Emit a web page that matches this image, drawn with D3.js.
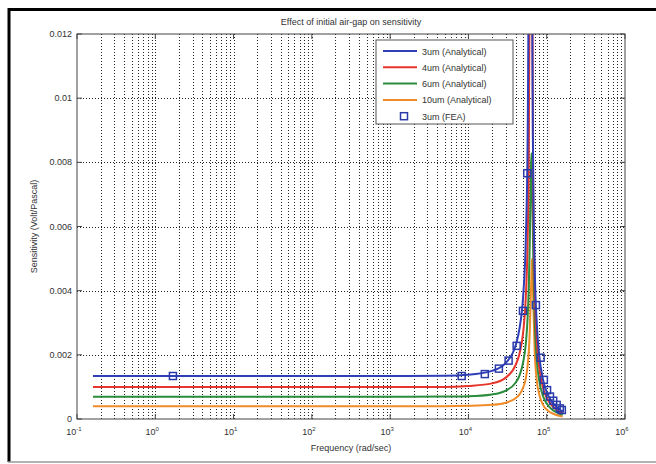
<!DOCTYPE html>
<html>
<head>
    <style>
        body { margin: 0; background: #fff; }
        text { font-family: "Liberation Sans", Arial, sans-serif; fill: #333; }
        .grid line { stroke: #222; stroke-dasharray: 1,2; stroke-width: 1; }
        .series { fill: none; stroke-width: 2; }
    </style>
    <script src="https://d3js.org/d3.v7.min.js"></script>
</head>
<body>
    <svg width="656" height="464"></svg>
    <script>
        // frequency (rad/sec) for the analytical curves
        let freq = [0.16, 1, 10, 100, 1e3, 5e3, 1e4, 2e4, 3e4, 4e4, 4.5e4, 5e4, 5.4e4, 5.7e4, 5.9e4,
                    6.1e4, 6.3e4, 6.4e4, 6.5e4, 6.7e4, 7e4, 7.5e4, 8e4, 9e4, 1e5, 1.15e5, 1.3e5, 1.5e5, 1.6e5];

        let gap3 = [0.00134, 0.00134, 0.00134, 0.00134, 0.00134, 0.00135, 0.00138, 0.0015, 0.00175, 0.00229, 0.00283, 0.00383, 0.00556, 0.00865, 0.0142,
                    0.03, 0.03, 0.022, 0.0135, 0.008, 0.00487, 0.0029, 0.00201, 0.00121, 0.00084, 0.00055, 0.0004, 0.00028, 0.00025];
        let gap4 = [0.001, 0.001, 0.001, 0.001, 0.001, 0.001, 0.00103, 0.00111, 0.00129, 0.00168, 0.00204, 0.0027, 0.00377, 0.00552, 0.0081,
                    0.0159, 0.025, 0.021, 0.0154, 0.0076, 0.00426, 0.0024, 0.00163, 0.00096, 0.00066, 0.00043, 0.00031, 0.00021, 0.00018];
        let gap6 = [0.00069, 0.00069, 0.00069, 0.00069, 0.00069, 0.0007, 0.00071, 0.000765, 0.000885, 0.00113, 0.00136, 0.00177, 0.00233, 0.00315, 0.0041,
                    0.00568, 0.00788, 0.00828, 0.00762, 0.00532, 0.0032, 0.00179, 0.00121, 0.000705, 0.00048, 0.00031, 0.00022, 0.000154, 0.000131];
        let gap10 = [0.0004, 0.0004, 0.0004, 0.0004, 0.0004, 0.0004, 0.00041, 0.000442, 0.000508, 0.000644, 0.000768, 0.00098, 0.00126, 0.00166, 0.0021,
                     0.00284, 0.00406, 0.0046, 0.005, 0.00387, 0.0022, 0.00116, 0.00078, 0.000436, 0.000293, 0.000188, 0.000133, 0.0000925, 0.000079];

        // FEA results for the 3um gap
        let feaFreq = [1.68, 8.2e3, 1.62e4, 2.45e4, 3.26e4, 4.13e4, 4.97e4, 5.64e4, 7.28e4, 8.36e4, 9.2e4, 1.01e5, 1.1e5, 1.21e5, 1.34e5, 1.47e5, 1.56e5];
        let feaVal = [0.00134, 0.00134, 0.0014, 0.00157, 0.00182, 0.00228, 0.00337, 0.00766, 0.00355, 0.00191, 0.00122, 0.0009, 0.0007, 0.00057, 0.00044, 0.00033, 0.00028];

        let seriesNames = ["3um (Analytical)", "4um (Analytical)", "6um (Analytical)", "10um (Analytical)"];
        let seriesColors = ["#2f3fb8", "#e8352b", "#2a8c3c", "#f08c28"];
        let seriesData = [gap3, gap4, gap6, gap10];

        let xExp = [-1, 0, 1, 2, 3, 4, 5, 6];
        let yTicks = [0, 0.002, 0.004, 0.006, 0.008, 0.01, 0.012];

        let svg = d3.select("svg");
        let pLeft = 77, pRight = 625, pTop = 34, pBottom = 419;

        // outer frame
        svg.append("rect").attr("x", 0).attr("y", 0).attr("width", 656).attr("height", 464).attr("fill", "#fff");
        svg.append("line").attr("x1", 8).attr("x2", 656).attr("y1", 9.5).attr("y2", 9.5).attr("stroke", "#000").attr("stroke-width", 3);
        svg.append("line").attr("x1", 9).attr("x2", 9).attr("y1", 8).attr("y2", 462).attr("stroke", "#000").attr("stroke-width", 3);
        svg.append("line").attr("x1", 8).attr("x2", 656).attr("y1", 462).attr("y2", 462).attr("stroke", "#999").attr("stroke-width", 1.5);

        let x = d3.scaleLog().domain([0.1, 1e6]).range([pLeft, pRight]);
        let y = d3.scaleLinear().domain([0, 0.012]).range([pBottom, pTop]);

        // grid: every decade and every minor step on x, every tick on y
        let xGrid = [];
        for (let e = -1; e < 6; e++) {
            for (let m = 1; m < 10; m++) xGrid.push(m * Math.pow(10, e));
        }
        let grid = svg.append("g").attr("class", "grid");
        grid.selectAll(".vx").data(xGrid.slice(1)).enter().append("line")
            .attr("x1", d => Math.round(x(d)) + 0.5).attr("x2", d => Math.round(x(d)) + 0.5)
            .attr("y1", pTop).attr("y2", pBottom);
        grid.selectAll(".hy").data(yTicks.slice(1, -1)).enter().append("line")
            .attr("x1", pLeft).attr("x2", pRight)
            .attr("y1", d => Math.round(y(d)) + 0.5).attr("y2", d => Math.round(y(d)) + 0.5);

        // tick marks inward on all sides
        let ticks = svg.append("g").attr("stroke", "#444").attr("stroke-width", 1);
        xExp.forEach(e => {
            let px = x(Math.pow(10, e));
            ticks.append("line").attr("x1", px).attr("x2", px).attr("y1", pBottom).attr("y2", pBottom - 5);
            ticks.append("line").attr("x1", px).attr("x2", px).attr("y1", pTop).attr("y2", pTop + 5);
        });
        yTicks.forEach(v => {
            ticks.append("line").attr("x1", pLeft).attr("x2", pLeft + 5).attr("y1", y(v)).attr("y2", y(v));
            ticks.append("line").attr("x1", pRight).attr("x2", pRight - 5).attr("y1", y(v)).attr("y2", y(v));
        });

        // curves
        svg.append("clipPath").attr("id", "plotClip").append("rect")
            .attr("x", pLeft).attr("y", pTop).attr("width", pRight - pLeft).attr("height", pBottom - pTop);
        let plot = svg.append("g").attr("clip-path", "url(#plotClip)");
        let line = d3.line().x(d => x(d[0])).y(d => y(d[1])).curve(d3.curveMonotoneX);

        seriesData.slice().reverse().forEach((vals, i) => {
            let k = seriesData.length - 1 - i;
            plot.append("path").attr("class", "series")
                .attr("stroke", seriesColors[k])
                .attr("d", line(freq.map((f, j) => [f, vals[j]])));
        });

        plot.selectAll(".fea").data(feaFreq.map((f, j) => [f, feaVal[j]])).enter().append("rect")
            .attr("x", d => x(d[0]) - 3.5).attr("y", d => y(d[1]) - 3.5)
            .attr("width", 7).attr("height", 7)
            .attr("fill", "none").attr("stroke", "#2a3aa8").attr("stroke-width", 1.5);

        // axes box
        svg.append("rect").attr("x", pLeft).attr("y", pTop).attr("width", pRight - pLeft).attr("height", pBottom - pTop)
            .attr("fill", "none").attr("stroke", "#444").attr("stroke-width", 1);

        // tick labels
        yTicks.forEach(v => {
            svg.append("text").attr("x", pLeft - 5).attr("y", y(v) + 3)
                .attr("text-anchor", "end").attr("font-size", 9)
                .text(v === 0 ? "0" : String(+v.toFixed(3)));
        });
        xExp.forEach(e => {
            let t = svg.append("text").attr("x", x(Math.pow(10, e)) - 3).attr("y", pBottom + 16)
                .attr("text-anchor", "middle").attr("font-size", 9);
            t.append("tspan").text("10");
            t.append("tspan").attr("dy", -4).attr("font-size", 6).text(e);
        });

        // titles
        svg.append("text").attr("x", (pLeft + pRight) / 2).attr("y", 25).attr("text-anchor", "middle")
            .attr("font-size", 9).text("Effect of initial air-gap on sensitivity");
        svg.append("text").attr("x", (pLeft + pRight) / 2).attr("y", 451).attr("text-anchor", "middle")
            .attr("font-size", 9).text("Frequency (rad/sec)");
        svg.append("text").attr("transform", "translate(37," + ((pTop + pBottom) / 2) + ") rotate(-90)")
            .attr("text-anchor", "middle").attr("font-size", 9).text("Sensitivity (Volt/Pascal)");

        // legend
        let legend = svg.append("g").attr("transform", "translate(376,40)");
        legend.append("rect").attr("width", 137).attr("height", 84)
            .attr("fill", "#fff").attr("stroke", "#555").attr("stroke-width", 1);
        seriesNames.forEach((name, i) => {
            let ly = 11 + i * 16.3;
            legend.append("line").attr("x1", 7).attr("x2", 41).attr("y1", ly).attr("y2", ly)
                .attr("stroke", seriesColors[i]).attr("stroke-width", 2);
            legend.append("text").attr("x", 46).attr("y", ly + 3.5).attr("font-size", 9).text(name);
        });
        legend.append("rect").attr("x", 24.5).attr("y", 11 + 4 * 16.3 - 3.5).attr("width", 7).attr("height", 7)
            .attr("fill", "none").attr("stroke", "#2a3aa8").attr("stroke-width", 1.5);
        legend.append("text").attr("x", 46).attr("y", 11 + 4 * 16.3 + 3.5).attr("font-size", 9).text("3um (FEA)");
    </script>
</body>
</html>
